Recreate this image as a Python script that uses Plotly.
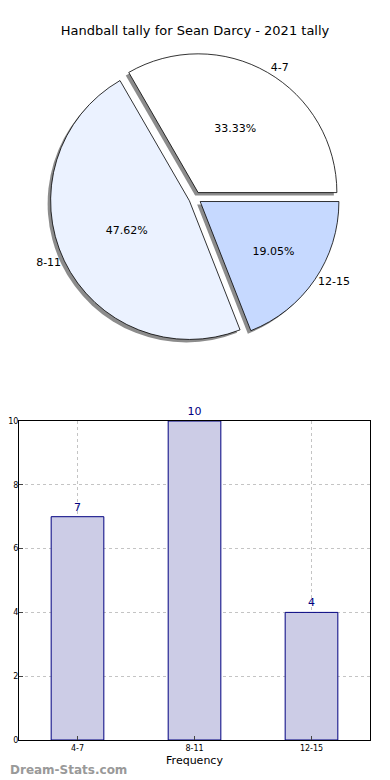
import plotly.graph_objects as go

categories = ["4-7", "8-11", "12-15"]
values = [7, 10, 4]
pie_colors = ["#FFFFFF", "#EBF2FF", "#C6D9FF"]
y_ticks = [0, 2, 4, 6, 8, 10]

OFF = 8  # page body margin
W, H = 390 - OFF, 780 - OFF
def px_x(a, b):
    return [(a - OFF) / W, (b - OFF) / W]
def px_y(top, bottom):
    return [1 - (bottom - OFF) / H, 1 - (top - OFF) / H]

# first slice starts at 3 o'clock and runs counterclockwise (matplotlib default)
start_rot = 90 - 360 * values[0] / sum(values)

pull = [0.045, 0.045, 0.045]
main_dom = dict(x=px_x(50, 340), y=px_y(53, 343))
shadow_dom = dict(x=px_x(47, 337), y=px_y(56, 346))

fig = go.Figure()

fig.add_trace(go.Pie(
    labels=categories, values=values, sort=False, direction="counterclockwise",
    rotation=start_rot, pull=pull, domain=shadow_dom,
    marker=dict(colors=["#8c8c8c"] * 3, line=dict(width=0)),
    textinfo="none", hoverinfo="skip", showlegend=False,
))
fig.add_trace(go.Pie(
    labels=categories, values=values, sort=False, direction="counterclockwise",
    rotation=start_rot, pull=pull, domain=main_dom,
    marker=dict(colors=pie_colors, line=dict(color="black", width=0.8)),
    texttemplate="%{percent:.2%}", textposition="inside",
    insidetextorientation="horizontal",
    textfont=dict(family="DejaVu Sans", size=11, color="black"),
    showlegend=False,
))
fig.add_trace(go.Pie(
    labels=categories, values=values, sort=False, direction="counterclockwise",
    rotation=start_rot, pull=pull, domain=main_dom,
    marker=dict(colors=["rgba(0,0,0,0)"] * 3, line=dict(width=0)),
    texttemplate="%{label}", textposition="outside",
    textfont=dict(family="DejaVu Sans", size=11, color="black"),
    hoverinfo="skip", showlegend=False,
))

fig.add_trace(go.Bar(
    x=categories, y=values, width=0.45,
    marker=dict(color="#CCCCE6", line=dict(color="#000080", width=1)),
    text=[str(v) for v in values], textposition="outside",
    textfont=dict(family="DejaVu Sans", size=11, color="#000080"),
    cliponaxis=False, showlegend=False,
    xaxis="x", yaxis="y",
))

fig.update_layout(
    width=W, height=H,
    margin=dict(l=0, r=0, t=0, b=0),
    paper_bgcolor="white", plot_bgcolor="white",
    font=dict(family="DejaVu Sans", color="black"),
    title=dict(text="Handball tally for Sean Darcy - 2021 tally", x=(195 - OFF) / W, xanchor="center",
               y=1 - (30 - OFF) / H, yanchor="middle", font=dict(size=13), pad=dict(t=0, b=0)),
    xaxis=dict(domain=px_x(19, 370), range=[-0.5, 2.5], showline=True, linecolor="black",
               linewidth=1, mirror=True, showgrid=True, gridcolor="#c4c4c4", griddash="dot",
               ticks="inside", ticklen=4, tickfont=dict(size=8), automargin=False,
               title=dict(text="Frequency", font=dict(size=11), standoff=4)),
    yaxis=dict(domain=px_y(421, 740), range=[0, 10], tickvals=y_ticks, showline=True,
               linecolor="black", linewidth=1, mirror=True, showgrid=True, gridcolor="#c4c4c4",
               griddash="dot", ticks="inside", ticklen=4, tickfont=dict(size=8), zeroline=False,
               automargin=False, ticklabelstandoff=-2),
    annotations=[dict(text="<b>Dream-Stats.com</b>", x=0, y=1 - (770 - OFF) / H,
                      xref="paper", yref="paper",
                      xanchor="left", yanchor="middle", showarrow=False,
                      font=dict(family="DejaVu Sans", size=12, color="#999999"))],
)

fig.write_html("out.html")
